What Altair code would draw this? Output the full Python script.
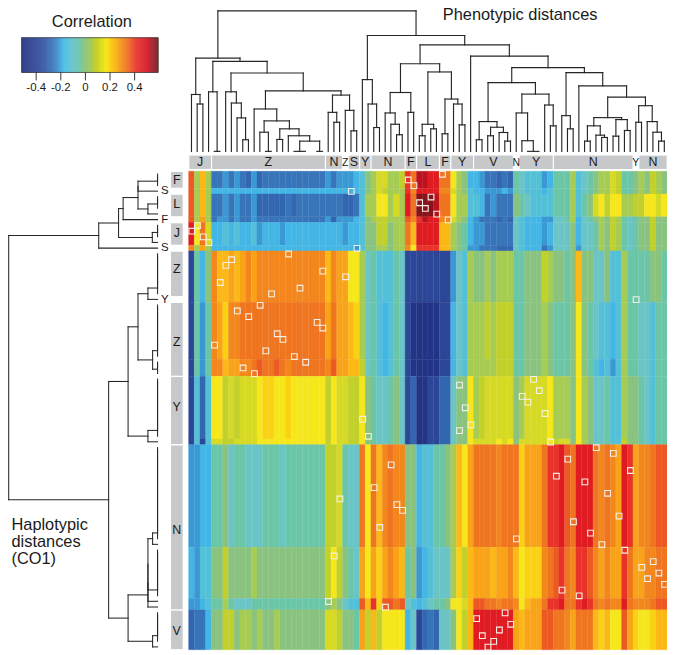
import altair as alt
import pandas as pd

# ---------- colour scale (correlation stops) ----------
STOPS = [-0.52, -0.344, -0.25, -0.169, -0.089, 0.0, 0.086, 0.167, 0.247, 0.328, 0.409, 0.489, 0.59]
COLORS = ["#1f2a7c", "#2f4e9f", "#3a78bd", "#47bbe8", "#6cc4c6", "#8fc27a", "#c2d02a",
          "#f7e81c", "#fbb318", "#ef7a20", "#e8322a", "#de1120", "#72141a"]
LEVELS = dict(a=-0.47, b=-0.38, c=-0.29, d=-0.26, e=-0.21, f=-0.175, g=-0.13, h=-0.09,
              i=-0.05, j=-0.005, k=0.05, l=0.085, m=0.12, n=0.165, o=0.2, p=0.24, q=0.27,
              r=0.31, s=0.335, t=0.37, u=0.41, v=0.47, w=0.52, x=0.57)
BAR_TICKS = [-0.4, -0.2, 0, 0.2, 0.4]
BAR_LABELS = ["-0.4", "-0.2", "0", "0.2", "0.4"]

# ---------- correlation per column, one string of levels per block of rows ----------
BANDS = [
 (0, 3, "tkpkddeded cecddddddd ddddedeeef gjkmmkklus wwvvssnkjf feddcdcihg ggefiiikgh ijkkmliijk jlkj"),
 (3, 4, "tkpkffffff ffffffffff ffffffffff gjkmlkkkur vvvvrrmkjg ffeeefeihg ggfgiiikgh ijkkmliijk jlkj"),
 (4, 8, "tkpkddeded decccccdcd dddddddccd gkknnkmkvs xxxwssnkkg gfdedddjih ggggiiikgi jmnlnnkkll nnmn"),
 (8, 9, "tkqkdeeded dedddddddd ddddeceeef gjkllkkktr uwvvrrmkjf edddcdchgf ffeehhikfh ijkjlkihij jljj"),
 (9, 13, "vnsmffgfgf fgefffefff fffffffeff gjjlljkksp vvvvppkjif eedddddhgf ffefhhhjfh hikjlkihij jljj"),
 (13, 14, "rkqkffffff ffffffffff fffffffffe gjjkkjkkrn uuuuppkjie edddccchgf ffdehhhjeh hikjlkihij jljj"),
 (14, 23, "bifjrppqpq rqrrrrrrrr rrrrprqqnn khigggihbb bbbbbbehgk jjkjkkkiij jjlkjjijpj jhhjggkiii ijji"),
 (23, 33, "bieirqorrs ssssssssss ssssqsqqpo khigfgihba aaaabbfhgk kklkllliij jjkjiiijnj ihggfgkiih hgii"),
 (33, 36, "bieirrpqqr rstsstsrss ssssrtqqpp lhigfgihba aaaabbfhgk kkkklllIIj jjkjiiijnj igfgegkiih hgii".replace("I", "i")),
 (36, 47, "bgcgnnlmlm mmnoonnonn nnnnlnmmll njihhijhbc aabbcchjjn klmmmmmjkm mmmnkkkjnk jhhiggkjji hgii"),
 (47, 48, "bgbgmmllmm mmnnnnnnnn nnnnlnmmll njihhijhbc aabbcchjjn mmmmnmnjmm mmmnlmmjnk jhhiggljji hgii"),
 (48, 66, "eeffiijhii hhhiiihiii iiiillmihh snsprsrrjj fggiijkpnq ssssrsssoq qqsuuvtsvv vsrsrqvuqr rstt"),
 (66, 75, "feggjjljjj jkjjjjjjjj jjjjlnljih qnqoqrqpij efghhhkolp qqqpqqrpno oorstusruu trqrqqusqq rrss"),
 (75, 77, "eefgiikihh hiiiiiiiii iiiijkjhgg tpuottsthg fghiijnnmp ttssrssrnp qqsuuvssuv usrsrrvsrr rstt"),
 (77, 84, "cddfjjlljk kjkjjkjjjj jjjjmmljji qlplnnnnfh bcdchhjnlp vvvvvvvqpq qqttssrqss spopnntqon nopp"),
]

# ---------- matched pairs marked by a white square ----------
SQ_ROW = list(range(84))
SQ_COL = [44, 38, 39, 28, 42, 40, 41, 43, 45, 1, 0, 2, 3, 29, 17, 7, 6, 23, 27, 5, 19, 14, 78, 12, 8, 10, 22, 23,
          15, 16, 4, 13, 18, 20, 9, 11, 60, 47, 61, 58, 59, 48, 62, 30, 49, 47, 31, 63, 71, 74, 66, 35, 77, 64,
          69, 32, 73, 26, 36, 37, 75, 67, 33, 70, 57, 72, 76, 25, 81, 79, 82, 80, 83, 65, 68, 24, 34, 55, 50,
          56, 54, 51, 53, 52]

# ---------- class strips ----------
TOP_STRIPS = [(0, 4, "J"), (4, 24, "Z"), (24, 27, "N"), (28, 30, "S"), (30, 32, "Y"), (32, 38, "N"), (38, 40, "F"),
              (40, 44, "L"), (44, 46, "F"), (46, 50, "Y"), (50, 57, "V"), (58, 64, "Y"), (64, 78, "N"), (79, 84, "N")]
TOP_SMALL = [(27, "Z"), (57, "N"), (78, "Y")]
LEFT_STRIPS = [(0, 3, "F"), (4, 8, "L"), (9, 13, "J"), (14, 22, "Z"), (23, 36, "Z"), (36, 48, "Y"), (48, 77, "N"), (77, 84, "V")]
LEFT_SMALL = [(3, "S"), (8, "F"), (13, "S"), (22, "Y")]

X0, Y0, CELL = 190.0, 170.0, 5.74
TOP_BASE, LEFT_BASE = 150.0, 158.7


def n(h, a, b):
    return (h, a, b)


def chain(*leaves):
    t = leaves[0]
    for leaf in leaves[1:]:
        t = n(0, t, leaf)
    return t


# ---------- trees: n(height, child, child), leaves are column / row numbers ----------
TOP_LEFT = n(94,
    n(57.3, 0, n(47.7, 1, 2)),
    n(90.7,
      n(60, 3, n(0, 4, 5)),
      n(79,
        n(60, 6, n(48.7, 7, n(33.7, 8, n(11.7, 9, 10)))),
        n(61,
          n(42.7, 11,
            n(30.7,
              n(19.3, 12, n(0, 13, 14)),
              n(22.7,
                n(12, 15, 16),
                n(15.7, 17, n(10.3, n(0, 18, 20), n(0, 22, 23)))))),
          n(56.7,
            n(39.3, 24, n(29.3, 25, 26)),
            n(41.3, 27, n(20.7, 28, 29))))))
)
TOP_RIGHT = n(116.7,
    n(72.3, 30, n(47.7, 31, n(24, 32, 33))),
    n(107.3,
      n(88.3,
        n(59.3,
          n(38.7, 34, n(27.3, 35, n(16.7, 36, 37))),
          n(39.3, 38, 39)),
        n(80,
          n(27.3, n(15.7, 40, 41), n(22.7, 42, 43)),
          n(52.7, n(17.7, 44, 45), n(47.7, 46, n(26.7, 47, 48))))),
      n(96, 49,
        n(84.3,
          n(69.3,
            n(30, n(11.7, 50, 51), n(24.3, n(15.7, 52, 53), n(19, 54, n(10.3, 55, 56)))),
            n(57.7,
              n(38.7, 57, n(10.7, 58, n(0, 59, 61))),
              n(46.7, 62, n(25.7, 63, 64)))),
          n(79.3,
            n(36, 65, n(22.7, 66, 67)),
            n(66, 68,
              n(54.7,
                n(34,
                  n(25.7, n(10.3, 69, 70), n(16.3, 71, n(14, 72, 73))),
                  n(32, n(15.3, 74, 75), n(21, 76, 77))),
                n(46,
                  n(29.3, 78, 79),
                  n(30, 80, n(19.3, 81, n(10.3, 82, 83)))))))))))
TOP_TREE = n(141.5, TOP_LEFT, TOP_RIGHT)

L_UP = n(59.3,
    n(39.3,
      n(34.7,
        n(19.7, n(19.7, chain(0, 1, 2), 3), n(9.7, chain(4, 5, 6), 7)),
        8),
      n(5.3, chain(9, 10, 11), 12)),
    13)
L_Z = n(19.7, n(9.7, chain(*range(14, 22)), 22), n(5, chain(*range(23, 33)), chain(33, 34, 35)))
L_Y = n(9.7, chain(*range(36, 47)), 47)
L_N = n(9.7, n(9.7, n(9.7, n(5, chain(*range(48, 65)), 65), chain(*range(66, 75))), 75), 76)
L_V = n(5, chain(*range(77, 83)), 83)
LEFT_TREE = n(150, L_UP, n(49.3, n(29.7, L_Z, L_Y), n(29.7, L_N, L_V)))


def segments(tree, horizontal_leaves):
    out = []

    def emit(h1, p1, h2, p2):
        if horizontal_leaves:
            out.append(dict(x=LEFT_BASE - h1, y=Y0 + CELL * (p1 + .5), x2=LEFT_BASE - h2, y2=Y0 + CELL * (p2 + .5)))
        else:
            out.append(dict(x=X0 + CELL * (p1 + .5), y=TOP_BASE - h1, x2=X0 + CELL * (p2 + .5), y2=TOP_BASE - h2))

    def walk(t):
        if not isinstance(t, tuple):
            return float(t), 0.0
        h, a, b = t
        pa, ha = walk(a)
        pb, hb = walk(b)
        emit(h, pa, h, pb)
        if ha != h:
            emit(ha, pa, h, pa)
        if hb != h:
            emit(hb, pb, h, pb)
        return (pa + pb) / 2, h

    walk(tree)
    return pd.DataFrame(out)


# ---------- tables ----------
heat = []
for r0, r1, s in BANDS:
    s = s.replace(" ", "")
    assert len(s) == 84, (r0, len(s))
    for c, ch in enumerate(s):
        heat.append(dict(x=X0 + CELL * c, x2=X0 + CELL * (c + 1), y=Y0 + CELL * r0, y2=Y0 + CELL * r1, v=LEVELS[ch]))
heat = pd.DataFrame(heat)

BAR_X0, BAR_X1, BAR_Y0, BAR_Y1 = 21.7, 159.3, 35.5, 70.5


def bar_x(v):
    return 86 + v * 124


ramp = []
for i in range(138):
    xa = BAR_X0 + i
    ramp.append(dict(x=xa, x2=min(xa + 1, BAR_X1), y=BAR_Y0, y2=BAR_Y1, v=(xa + .5 - 86) / 124))
ramp = pd.DataFrame(ramp)

squares = pd.DataFrame([dict(x=X0 + CELL * c + .3, x2=X0 + CELL * (c + 1) + .3, y=Y0 + CELL * r + .2, y2=Y0 + CELL * (r + 1) + .2)
                        for r, c in zip(SQ_ROW, SQ_COL)])

strips = []
for a, b, _ in TOP_STRIPS:
    strips.append(dict(x=X0 + CELL * a + .7, x2=X0 + CELL * b - .5, y=154.3, y2=167.7))
for a, b, _ in LEFT_STRIPS:
    strips.append(dict(x=172.3, x2=184, y=Y0 + CELL * a + .8, y2=Y0 + CELL * b - .6))
strips = pd.DataFrame(strips)

labels = []
for a, b, t in TOP_STRIPS:
    labels.append(dict(x=X0 + CELL * (a + b) / 2, y=161, t=t, s=12.5))
for c, t in TOP_SMALL:
    labels.append(dict(x=X0 + CELL * (c + .5), y=161.5, t=t, s=10.5))
for (a, b, t), yy in zip(LEFT_STRIPS, [178.5, 203, 232, 269, 342, 408, 532, 633]):
    labels.append(dict(x=178, y=yy, t=t, s=12.5))
for r, t in LEFT_SMALL:
    labels.append(dict(x=166, y=Y0 + CELL * (r + .5) + .3, t=t, s=11.5))
for v, t in zip(BAR_TICKS, BAR_LABELS):
    labels.append(dict(x=bar_x(v), y=86.5, t=t, s=11.5))
labels.append(dict(x=92.5, y=20, t="Correlation", s=16.5))
labels.append(dict(x=524, y=13, t="Phenotypic distances", s=16.5))
labels = pd.DataFrame(labels)

left_labels = pd.DataFrame([dict(x=11.5, y=527, t="Haplotypic", s=16.5), dict(x=11.5, y=543.5, t="distances", s=16.5),
                            dict(x=11.5, y=560.5, t="(CO1)", s=16.5)])

bar_ticks = pd.DataFrame([dict(x=bar_x(v), y=BAR_Y1, y2=78.5) for v in BAR_TICKS])
bar_box = pd.DataFrame([dict(x=BAR_X0, x2=BAR_X1, y=BAR_Y0, y2=BAR_Y1)])

# ---------- marks ----------
XS = alt.Scale(domain=[8, 672], nice=False, zero=False)
YS = alt.Scale(domain=[652, 8], nice=False, zero=False)
CS = alt.Scale(domain=STOPS, range=COLORS, clamp=True)
X = alt.X("x:Q", scale=XS, axis=None)
Y = alt.Y("y:Q", scale=YS, axis=None)


def rects(df, mark):
    return alt.Chart(df).mark_rect(**mark).encode(x=X, x2="x2:Q", y=Y, y2="y2:Q")


def valued(df):
    return alt.Chart(df).mark_rect(strokeWidth=0.35).encode(
        x=X, x2="x2:Q", y=Y, y2="y2:Q",
        color=alt.Color("v:Q", scale=CS, legend=None),
        stroke=alt.Stroke("v:Q", scale=CS, legend=None),
    )


def tree(df, width):
    return alt.Chart(df).mark_rule(color="#262626", strokeWidth=width, strokeCap="square").encode(
        x=X, x2="x2:Q", y=Y, y2="y2:Q")


def text(df, align):
    return alt.Chart(df).mark_text(font="Liberation Sans", color="#1a1a1a", align=align, baseline="middle").encode(
        x=X, y=Y, text="t:N", size=alt.Size("s:Q", scale=None, legend=None))


chart = alt.layer(
    valued(heat),
    rects(squares, dict(fillOpacity=0, stroke="#f5f1e8", strokeWidth=1.1)),
    rects(strips, dict(color="#c7c8ca")),
    tree(segments(TOP_TREE, False), 1.15),
    tree(segments(LEFT_TREE, True), 1.05),
    valued(ramp),
    rects(bar_box, dict(fillOpacity=0, stroke="#444444", strokeWidth=0.8)),
    alt.Chart(bar_ticks).mark_rule(color="#222222", strokeWidth=0.9).encode(x=X, y=Y, y2="y2:Q"),
    text(labels, "center"),
    text(left_labels, "left"),
).properties(width=664, height=644, padding=0,
             autosize=alt.AutoSizeParams(type="none")).configure_view(stroke=None)

chart.save("out.html", embed_options={"renderer": "svg", "actions": False})
